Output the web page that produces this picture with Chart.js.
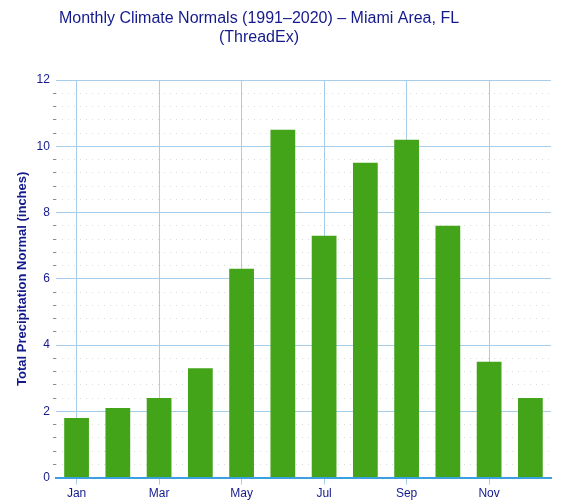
<!DOCTYPE html>
<html>
<head>
<meta charset="utf-8">
<script src="https://cdn.jsdelivr.net/npm/chart.js@4"></script>
<style>
  body { margin: 0; background: #fff; }
</style>
</head>
<body>
<canvas id="precipChart" width="569" height="502"></canvas>
<script>
const months = ['Jan', 'Feb', 'Mar', 'Apr', 'May', 'Jun', 'Jul', 'Aug', 'Sep', 'Oct', 'Nov', 'Dec'];
const precipNormals = [1.8, 2.1, 2.4, 3.3, 6.3, 10.5, 7.3, 9.5, 10.2, 7.6, 3.5, 2.4];
const titleLines = ['Monthly Climate Normals (1991\u20132020) \u2013 Miami Area, FL', '(ThreadEx)'];
const yTitle = 'Total Precipitation Normal (inches)';

const navy = '#141a8c';
const majorGrid = '#a6cdea';

function isMajor(v) {
  return Math.abs(v / 2 - Math.round(v / 2)) < 1e-6;
}

// title is drawn by hand so it can sit a bit left of the canvas centre like the original
const titlePlugin = {
  id: 'pageTitle',
  afterDraw(chart) {
    const c = chart.ctx;
    c.save();
    c.fillStyle = navy;
    c.font = '16px "Liberation Sans"';
    c.textAlign = 'center';
    c.textBaseline = 'middle';
    titleLines.forEach((line, i) => c.fillText(line, 259, 19 + i * 19));
    c.restore();
  }
};

const ctx = document.getElementById('precipChart').getContext('2d');

new Chart(ctx, {
  type: 'bar',
  data: {
    labels: months,
    datasets: [{
      data: precipNormals,
      backgroundColor: '#43a41a',
      barPercentage: 0.6,
      categoryPercentage: 1
    }]
  },
  plugins: [titlePlugin],
  options: {
    responsive: false,
    animation: false,
    layout: {
      padding: { top: 80, left: 15, right: 18, bottom: 0 }
    },
    plugins: {
      legend: { display: false },
      tooltip: { enabled: false },
      title: { display: false }
    },
    scales: {
      x: {
        offset: true,
        grid: {
          offset: false,
          color: c => c.index % 2 === 0 ? majorGrid : 'rgba(0,0,0,0)',
          tickColor: c => c.index % 2 === 0 ? majorGrid : 'rgba(0,0,0,0)',
          tickLength: 7
        },
        border: { color: '#3ba0df', width: 2 },
        ticks: {
          autoSkip: false,
          maxRotation: 0,
          color: navy,
          font: { family: 'Liberation Sans', size: 12 },
          padding: 1.5,
          callback: (v, i) => i % 2 === 0 ? months[i] : ''
        }
      },
      y: {
        min: 0,
        max: 12,
        border: { display: false, dash: c => (c.tick && isMajor(c.tick.value)) ? [] : [1, 5] },
        grid: {
          color: c => isMajor(c.tick.value) ? majorGrid : '#dcdcdc',
          tickColor: c => isMajor(c.tick.value) ? 'rgba(0,0,0,0)' : '#8a8a8a',
          tickLength: 3
        },
        ticks: {
          stepSize: 0.4,
          autoSkip: false,
          color: navy,
          font: { family: 'Liberation Sans', size: 12 },
          padding: 3,
          callback: v => isMajor(v) ? String(Math.round(v)) : ''
        },
        title: {
          display: true,
          text: yTitle,
          color: navy,
          font: { family: 'Liberation Sans', size: 13, weight: 'bold' },
          padding: { top: 0, bottom: 3 }
        }
      }
    }
  }
});
</script>
</body>
</html>
